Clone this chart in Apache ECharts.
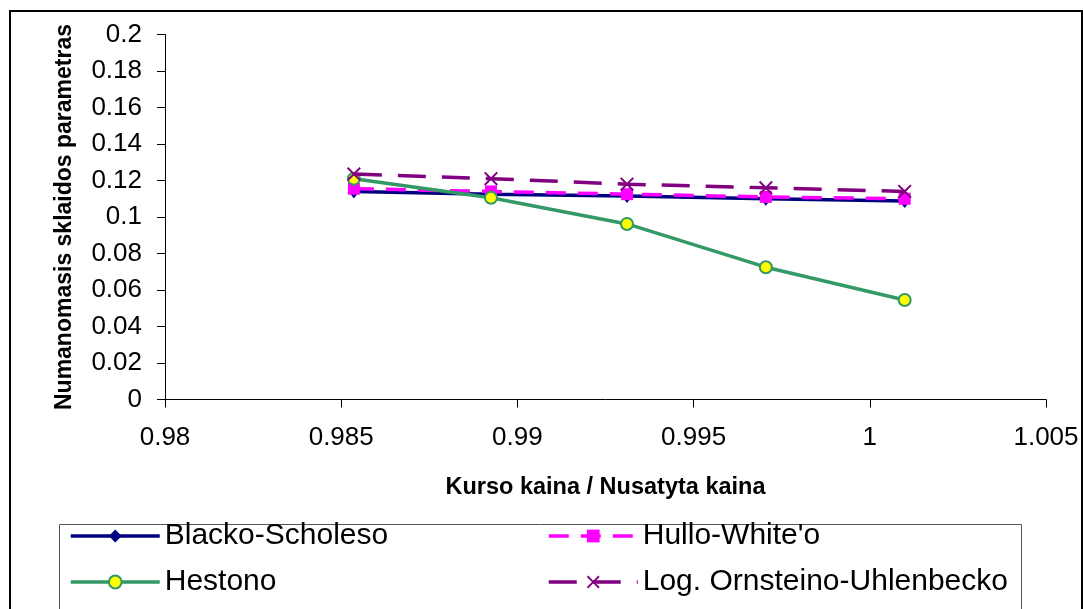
<!DOCTYPE html>
<html>
<head>
<meta charset="utf-8">
<script src="https://cdn.jsdelivr.net/npm/echarts@6/dist/echarts.min.js"></script>
<style>
  html, body { margin: 0; padding: 0; background: #fff; }
  #chart { width: 1083px; height: 609px; }
</style>
</head>
<body>
<div id="chart"></div>
<script>
// Moneyness (spot / strike) at which each model was calibrated
const moneyness = [0.98536, 0.98925, 0.99311, 0.99705, 1.00099];

// Implied volatility per model
const blackScholes = [0.114, 0.1125, 0.1115, 0.110, 0.1088];
const hullWhite    = [0.1155, 0.114, 0.1125, 0.111, 0.110];
const heston       = [0.121, 0.1105, 0.0962, 0.0725, 0.0545];
const logOU        = [0.1235, 0.121, 0.118, 0.116, 0.114];

const seriesNames = ['Blacko-Scholeso', "Hullo-White'o", 'Hestono', 'Log. Ornsteino-Uhlenbecko'];

const xTicks = { min: 0.98, max: 1.005, step: 0.005 };
const yTicks = { min: 0, max: 0.2, step: 0.02 };

const pairs = vals => moneyness.map((x, i) => [x, vals[i]]);
const trim = v => String(parseFloat(v.toFixed(4)));

const crossPath = 'path://M0,1 L1,0 L5,4 L9,0 L10,1 L6,5 L10,9 L9,10 L5,6 L1,10 L0,9 L4,5 Z';
const FONT = '"Liberation Sans", Arial, sans-serif';

const legendBase = {
  orient: 'vertical', top: 521, itemGap: 16, padding: 0,
  itemWidth: 89, itemHeight: 16,
  lineStyle: { width: 3.5 },
  textStyle: { fontSize: 30, fontFamily: FONT, color: '#000' }
};

const chart = echarts.init(document.getElementById('chart'), null, { renderer: 'canvas' });

chart.setOption({
  backgroundColor: '#ffffff',
  animation: false,
  textStyle: { fontFamily: FONT, color: '#000' },
  graphic: [
    {
      type: 'rect', z: 0, silent: true,
      shape: { x: 10, y: 11, width: 1072, height: 620 },
      style: { fill: 'none', stroke: '#000', lineWidth: 2 }
    },
    {
      type: 'rect', z: 0, silent: true,
      shape: { x: 59.5, y: 524.5, width: 962, height: 100 },
      style: { fill: 'none', stroke: '#555', lineWidth: 1 }
    }
  ],
  grid: { left: 165, right: 37, top: 34.5, bottom: 209.5, containLabel: false },
  xAxis: {
    type: 'value',
    min: xTicks.min, max: xTicks.max, interval: xTicks.step,
    name: 'Kurso kaina / Nusatyta kaina',
    nameLocation: 'middle',
    nameGap: 76,
    nameTextStyle: { fontFamily: FONT, fontWeight: 'bold', fontSize: 23.5, color: '#000' },
    axisLine: { onZero: false, lineStyle: { color: '#000', width: 1 } },
    axisTick: { inside: false, length: 8, lineStyle: { color: '#000' } },
    axisLabel: { margin: 25, fontSize: 26, fontFamily: FONT, color: '#000', formatter: trim },
    splitLine: { show: false }
  },
  yAxis: {
    type: 'value',
    min: yTicks.min, max: yTicks.max, interval: yTicks.step,
    name: 'Numanomasis sklaidos parametras',
    nameLocation: 'middle',
    nameRotate: 90,
    nameGap: 89,
    nameTextStyle: { fontFamily: FONT, fontWeight: 'bold', fontSize: 23, color: '#000' },
    axisLine: { show: true, lineStyle: { color: '#000', width: 1 } },
    axisTick: { show: true, inside: false, length: 8, lineStyle: { color: '#000' } },
    axisLabel: { margin: 23, fontSize: 26, fontFamily: FONT, color: '#000', formatter: trim },
    splitLine: { show: false }
  },
  legend: [
    Object.assign({}, legendBase, { data: [seriesNames[0], seriesNames[2]], left: 69 }),
    Object.assign({}, legendBase, { data: [seriesNames[1], seriesNames[3]], left: 547 })
  ],
  series: [
    {
      name: seriesNames[0], type: 'line', data: pairs(blackScholes),
      symbol: 'diamond', symbolSize: [11, 14],
      lineStyle: { color: '#000080', width: 3.5 },
      itemStyle: { color: '#000080' }, z: 2
    },
    {
      name: seriesNames[1], type: 'line', data: pairs(hullWhite),
      symbol: 'rect', symbolSize: 12,
      lineStyle: { color: '#ff00ff', width: 3.5, type: [20, 12] },
      itemStyle: { color: '#ff00ff' }, z: 3
    },
    {
      name: seriesNames[2], type: 'line', data: pairs(heston),
      symbol: 'circle', symbolSize: 12,
      lineStyle: { color: '#339966', width: 3.5 },
      itemStyle: { color: '#ffff00', borderColor: '#339966', borderWidth: 2 }, z: 4
    },
    {
      name: seriesNames[3], type: 'line', data: pairs(logOU),
      symbol: crossPath, symbolSize: 14,
      lineStyle: { color: '#800080', width: 3.5, type: [28, 16] },
      itemStyle: { color: '#800080' }, z: 5
    }
  ]
});
</script>
</body>
</html>
